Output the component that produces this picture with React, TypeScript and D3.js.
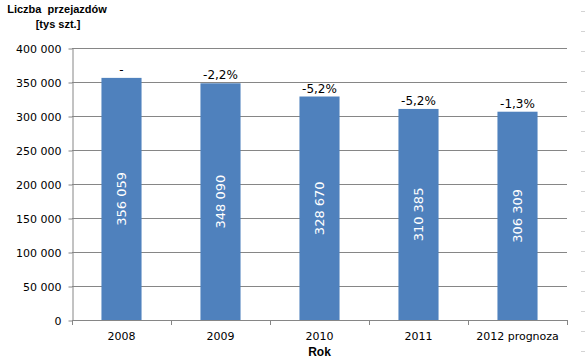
import React, { useEffect, useRef } from "react";
import * as d3 from "d3";

// Values
const years = ["2008", "2009", "2010", "2011", "2012 prognoza"];
const rides = [356059, 348090, 328670, 310385, 306309];
const changes = ["-", "-2,2%", "-5,2%", "-5,2%", "-1,3%"];
const yTicks = [0, 50000, 100000, 150000, 200000, 250000, 300000, 350000, 400000];

const App = () => {
  const ref = useRef<SVGSVGElement | null>(null);

  useEffect(() => {
    const width = 585;
    const height = 360;
    const margin = { top: 48, right: 18, bottom: 40, left: 72 };

    const svg = d3.select(ref.current);
    svg.selectAll("*").remove();

    const fmt = (v: number) => d3.format(",")(v).replace(/,/g, " ");

    const x = d3
      .scaleBand()
      .domain(years)
      .range([margin.left, width - margin.right])
      .paddingInner(0)
      .paddingOuter(0);

    const y = d3
      .scaleLinear()
      .domain([0, 400000])
      .range([height - margin.bottom, margin.top]);

    const barW = x.bandwidth() * 0.405;

    // faint dashes on the right edge (border of the source image)
    svg
      .append("g")
      .selectAll("line")
      .data(d3.range(11, height, 20))
      .enter()
      .append("line")
      .attr("x1", 581)
      .attr("x2", 585)
      .attr("y1", (d) => d + 0.5)
      .attr("y2", (d) => d + 0.5)
      .attr("stroke", "#d4d4d4");

    // gridlines
    svg
      .append("g")
      .selectAll("line")
      .data(yTicks.filter((t) => t > 0))
      .enter()
      .append("line")
      .attr("x1", margin.left)
      .attr("x2", width - margin.right)
      .attr("y1", (d) => Math.round(y(d)) + 0.5)
      .attr("y2", (d) => Math.round(y(d)) + 0.5)
      .attr("stroke", "#868686");

    // bars
    svg
      .append("g")
      .selectAll("rect")
      .data(rides)
      .enter()
      .append("rect")
      .attr("x", (d, i) => x(years[i])! + x.bandwidth() / 2 - barW / 2)
      .attr("y", (d) => y(d))
      .attr("width", barW)
      .attr("height", (d) => y(0) - y(d))
      .attr("fill", "#4F81BD");

    // y axis
    const yAxis = svg
      .append("g")
      .attr("transform", `translate(${margin.left + 0.5}, 0.5)`)
      .call(
        d3
          .axisLeft(y)
          .tickValues(yTicks)
          .tickSize(4)
          .tickSizeOuter(0)
          .tickPadding(7)
          .tickFormat((d) => fmt(d as number))
      );
    yAxis.select(".domain").attr("stroke", "#868686");
    yAxis.selectAll(".tick line").attr("stroke", "#868686");
    yAxis
      .selectAll("text")
      .attr("font-family", "DejaVu Sans, sans-serif")
      .attr("font-size", 11)
      .attr("fill", "#000");

    // x axis: ticks at category boundaries
    const xAxisG = svg.append("g");
    xAxisG
      .append("line")
      .attr("x1", margin.left)
      .attr("x2", width - margin.right)
      .attr("y1", y(0) + 0.5)
      .attr("y2", y(0) + 0.5)
      .attr("stroke", "#868686");
    xAxisG
      .selectAll("line.tk")
      .data(years.map((c) => x(c)!).concat([width - margin.right]))
      .enter()
      .append("line")
      .attr("class", "tk")
      .attr("x1", (d) => Math.round(d) + 0.5)
      .attr("x2", (d) => Math.round(d) + 0.5)
      .attr("y1", y(0))
      .attr("y2", y(0) + 5)
      .attr("stroke", "#868686");
    xAxisG
      .selectAll("text")
      .data(years)
      .enter()
      .append("text")
      .attr("x", (d) => x(d)! + x.bandwidth() / 2)
      .attr("y", y(0) + 20)
      .attr("text-anchor", "middle")
      .attr("font-family", "DejaVu Sans, sans-serif")
      .attr("font-size", 11)
      .text((d) => d);

    // values inside bars
    svg
      .append("g")
      .selectAll("text")
      .data(rides)
      .enter()
      .append("text")
      .attr("transform", (d, i) => {
        const cx = x(years[i])! + x.bandwidth() / 2;
        const cy = (y(d) + y(0)) / 2;
        return `translate(${cx + 4.5}, ${cy}) rotate(-90)`;
      })
      .attr("text-anchor", "middle")
      .attr("font-family", "DejaVu Sans, sans-serif")
      .attr("font-size", 13)
      .attr("fill", "#fff")
      .text((d) => fmt(d));

    // change labels above bars
    svg
      .append("g")
      .selectAll("text")
      .data(rides)
      .enter()
      .append("text")
      .attr("x", (d, i) => x(years[i])! + x.bandwidth() / 2)
      .attr("y", (d) => y(d) - 4)
      .attr("text-anchor", "middle")
      .attr("font-family", "DejaVu Sans, sans-serif")
      .attr("font-size", 12)
      .attr("fill", "#000")
      .text((d, i) => changes[i]);

    // axis titles
    svg
      .append("text")
      .attr("x", (margin.left + width - margin.right) / 2)
      .attr("y", 356)
      .attr("text-anchor", "middle")
      .attr("font-family", "Liberation Sans, Arial, sans-serif")
      .attr("font-weight", "bold")
      .attr("font-size", 12)
      .text("Rok");

    const title = svg
      .append("text")
      .attr("font-family", "Liberation Sans, Arial, sans-serif")
      .attr("font-weight", "bold")
      .attr("font-size", 11)
      .attr("text-anchor", "middle");
    title.append("tspan").attr("x", 57).attr("y", 13).text("Liczba  przejazdów").attr("xml:space", "preserve");
    title.append("tspan").attr("x", 58).attr("y", 28).text("[tys szt.]");
  }, []);

  return (
    <svg
      ref={ref}
      width={585}
      height={360}
      style={{ position: "absolute", left: 0, top: 0, background: "#fff" }}
    />
  );
};

export default App;
